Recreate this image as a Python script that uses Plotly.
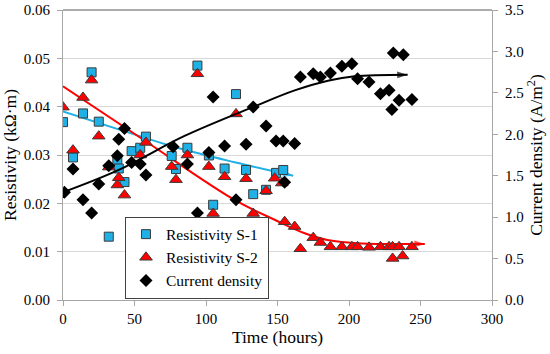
import plotly.graph_objects as go

# ---- data ----
t_s1 = [0, 7, 14, 20, 25, 32, 38, 39, 43, 48, 54, 58, 76, 79, 87, 94, 102, 105, 113, 121, 128, 133, 142, 149, 154]
res_s1 = [0.0368, 0.0295, 0.0386, 0.0471, 0.0369, 0.0131, 0.0290, 0.0272, 0.0244, 0.0308, 0.0315, 0.0338,
          0.0298, 0.0271, 0.0315, 0.0485, 0.0299, 0.0197, 0.0272, 0.0426, 0.0269, 0.0219, 0.0228, 0.0263, 0.0269]

t_s2 = [0, 7, 14, 20, 25, 32, 38, 39, 43, 54, 58, 76, 79, 87, 94, 102, 105, 113, 121, 128, 133, 142, 148, 153,
        155, 162, 166, 175, 180, 187, 195, 202, 206, 214, 222, 228, 230.5, 235, 244, 230.5, 237.5]
res_s2 = [0.0399, 0.0310, 0.0419, 0.0455, 0.0339, 0.0275, 0.0238, 0.0253, 0.0217, 0.0300, 0.0326, 0.0276,
          0.0249, 0.0300, 0.0468, 0.0276, 0.0179, 0.0255, 0.0385, 0.0251, 0.0179, 0.0226, 0.0252, 0.0242,
          0.0162, 0.0152, 0.0106, 0.0129, 0.0119, 0.0110, 0.0110, 0.0110, 0.0110, 0.0109, 0.0110, 0.0110,
          0.0110, 0.0110, 0.0110, 0.0086, 0.0091]

t_cd = [1, 7, 14, 20, 25, 32, 38, 39, 43, 48, 54, 58, 77, 87, 94, 102, 105, 113, 121, 128, 133, 142, 149, 154,
        155, 162, 166, 175, 180, 187, 195, 202, 206, 214, 222, 228, 230, 231, 235, 238, 244]
cur_dens = [1.30, 1.58, 1.21, 1.05, 1.40, 1.62, 1.74, 1.94, 2.07, 1.66, 1.64, 1.51, 1.85, 1.64, 1.05, 1.78,
            2.45, 1.86, 1.21, 1.88, 2.33, 2.10, 1.92, 1.92, 1.42, 1.89, 2.69, 2.73, 2.69, 2.74, 2.82, 2.85,
            2.67, 2.63, 2.49, 2.53, 2.30, 2.98, 2.41, 2.96, 2.42]

# trend curves
trend_s1_t = [0, 40, 80, 120, 161]
trend_s1_v = [0.0390, 0.0352, 0.0315, 0.0285, 0.0257]
trend_s2_t = [0, 57, 120, 148, 169, 185, 209, 253]
trend_s2_v = [0.0442, 0.0330, 0.0207, 0.0166, 0.0138, 0.0124, 0.0117, 0.0116]
trend_cd_t = [0, 39, 85, 133, 162, 186, 204, 241]
trend_cd_v = [1.30, 1.57, 1.98, 2.33, 2.53, 2.65, 2.70, 2.72]

BLUE = "#1fb1e6"
RED = "#ff0000"
BLACK = "#000000"
FONT = "Liberation Serif, 'Times New Roman', Times, serif"


def arrow_marker(n, color):
    return dict(symbol=["circle"] * (n - 1) + ["arrow"], size=[0] * (n - 1) + [11],
                angleref="previous", color=color, line=dict(width=0))


fig = go.Figure()

fig.add_trace(go.Scatter(x=trend_s1_t, y=trend_s1_v, mode="lines+markers", showlegend=False,
                         line=dict(color=BLUE, width=2, shape="spline"),
                         marker=arrow_marker(len(trend_s1_t), BLUE), hoverinfo="skip"))
fig.add_trace(go.Scatter(x=trend_s2_t, y=trend_s2_v, mode="lines+markers", showlegend=False,
                         line=dict(color=RED, width=2, shape="spline"),
                         marker=arrow_marker(len(trend_s2_t), RED), hoverinfo="skip"))

fig.add_trace(go.Scatter(x=t_s1, y=res_s1, mode="markers", name="Resistivity S-1",
                         marker=dict(symbol="square", size=9, color=BLUE,
                                     line=dict(color="#3a3a3a", width=1))))
fig.add_trace(go.Scatter(x=t_s2, y=res_s2, mode="markers", name="Resistivity S-2",
                         marker=dict(symbol="triangle-up", size=11, color=RED,
                                     line=dict(color="#3a3a3a", width=1))))
fig.add_trace(go.Scatter(x=t_cd, y=cur_dens, mode="markers", name="Current density", yaxis="y2",
                         marker=dict(symbol="diamond", size=10, color=BLACK)))
fig.add_trace(go.Scatter(x=trend_cd_t, y=trend_cd_v, mode="lines+markers", showlegend=False, yaxis="y2",
                         line=dict(color=BLACK, width=2, shape="spline"),
                         marker=arrow_marker(len(trend_cd_t), BLACK), hoverinfo="skip"))

axis_common = dict(showline=True, linecolor="#a6a6a6", linewidth=1, ticks="outside", ticklen=5,
                   tickcolor="#a6a6a6", zeroline=False, automargin=False,
                   tickfont=dict(family=FONT, size=15, color="black"))

fig.update_layout(
    width=550, height=354,
    margin=dict(l=63, r=58, t=10, b=54, autoexpand=False),
    plot_bgcolor="white", paper_bgcolor="white",
    font=dict(family=FONT, size=15, color="black"),
    xaxis=dict(range=[0, 300], tick0=0, dtick=50, showgrid=False,
               title=dict(text="Time (hours)", font=dict(family=FONT, size=17.5), standoff=3),
               **axis_common),
    yaxis=dict(range=[0, 0.06], tick0=0, dtick=0.01, tickformat=".2f", showgrid=True,
               gridcolor="#d9d9d9", gridwidth=1, ticklabelstandoff=4,
               title=dict(text="Resistivity (kΩ·m)", font=dict(family=FONT, size=17.5), standoff=4),
               **axis_common),
    yaxis2=dict(range=[0, 3.5], tick0=0, dtick=0.5, tickformat=".1f", overlaying="y", side="right",
                showgrid=False, ticklabelstandoff=4,
                title=dict(text="Current density (A/m<sup>2</sup>)", font=dict(family=FONT, size=17.5), standoff=4),
                **axis_common),
    legend=dict(x=0.1445, y=0.005, xanchor="left", yanchor="bottom", bgcolor="white",
                bordercolor="#404040", borderwidth=1, font=dict(family=FONT, size=15.5),
                itemwidth=30, tracegroupgap=0),
    shapes=[dict(type="line", xref="paper", yref="paper", x0=0, x1=1, y0=1, y1=1,
                 line=dict(color="#595959", width=1))],
)

# remove the browser's default 8px body margin so the figure sits at the page origin
fig.write_html("out.html", config={"displayModeBar": False},
               post_script="document.body.style.margin='0';")
